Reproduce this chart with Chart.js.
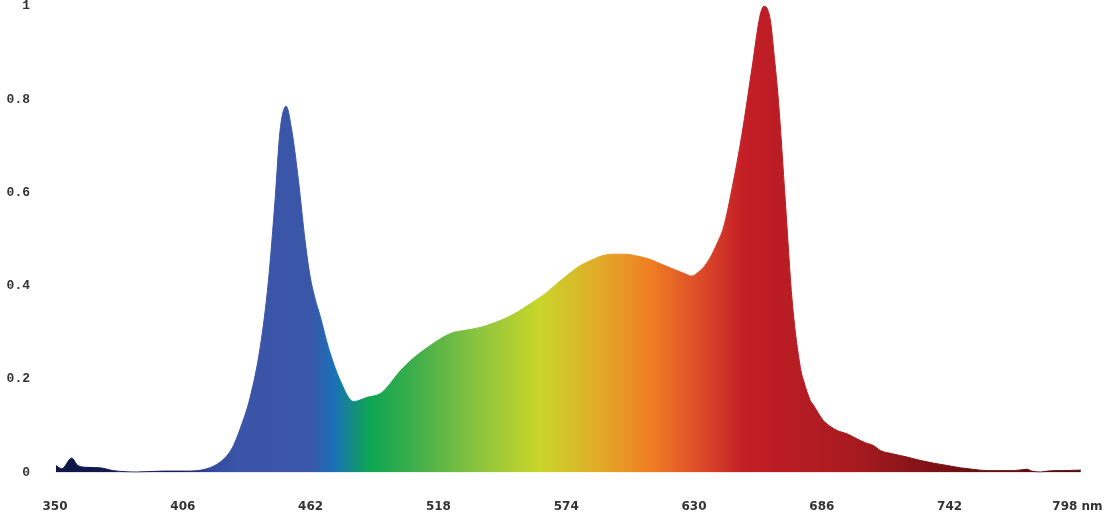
<!DOCTYPE html>
<html>
<head>
<meta charset="utf-8">
<script src="https://cdn.jsdelivr.net/npm/chart.js@4/dist/chart.umd.min.js"></script>
<style>
  html, body { margin: 0; padding: 0; background: #ffffff; }
  #wrap { width: 1120px; height: 523px; position: relative; }
</style>
</head>
<body>
<div id="wrap"><canvas id="c" width="1120" height="523"></canvas></div>
<script>
// ---- data ----
const wavelengths = [
  350.4, 353, 357.3, 360, 364, 369.7, 375.6, 385.8, 397.5, 407.7,
  416.5, 422.3, 426, 428.2, 431, 435.5, 439.9, 443.5, 446.5, 448.6,
  451.3, 453.8, 456.7, 459.6, 461.8, 464, 466.2, 469.8, 475, 480.8, 486.6,
  492.5, 495.4, 501.3, 507, 514.4, 520, 524.5, 530, 536.3, 542,
  548, 553, 558, 565.5, 570, 575.8, 580, 585.9, 590, 594.6,
  600, 605, 610, 615, 620, 625, 629, 632, 634, 637,
  640, 642.9, 646.7, 651, 655.4, 659, 660.8, 662.2, 663.5, 665,
  667, 670, 673, 676.6, 678, 681, 682, 686.7, 688.3, 692.7,
  697, 701.5, 705, 708.6, 711.7, 717, 723.4, 729, 735, 741,
  746.8, 752, 758.5, 764, 770, 776, 778, 781.8, 785, 787.5,
  792, 798, 799.5
];
const intensity = [
  0.015, 0.008, 0.031, 0.015, 0.011, 0.010, 0.004, 0.001, 0.003, 0.003,
  0.008, 0.022, 0.040, 0.058, 0.092, 0.161, 0.268, 0.410, 0.589, 0.732,
  0.785, 0.732, 0.625, 0.496, 0.420, 0.372, 0.335, 0.268, 0.197, 0.152, 0.161,
  0.169, 0.182, 0.218, 0.245, 0.272, 0.290, 0.300, 0.305, 0.311, 0.320,
  0.332, 0.345, 0.361, 0.386, 0.405, 0.428, 0.443, 0.457, 0.465, 0.468,
  0.468, 0.464, 0.458, 0.448, 0.438, 0.428, 0.421, 0.430, 0.439, 0.460,
  0.490, 0.525, 0.610, 0.725, 0.867, 0.981, 1.000, 0.993, 0.968, 0.900,
  0.796, 0.582, 0.368, 0.225, 0.197, 0.154, 0.147, 0.111, 0.104, 0.090,
  0.083, 0.072, 0.064, 0.058, 0.047, 0.040, 0.033, 0.026, 0.020, 0.015,
  0.010, 0.007, 0.004, 0.004, 0.004, 0.007, 0.003, 0.001, 0.003, 0.004,
  0.004, 0.005, 0.005
];
const xTickValues = [350, 406, 462, 518, 574, 630, 686, 742, 798];
const yTickValues = [0, 0.2, 0.4, 0.6, 0.8, 1];
const xUnit = 'nm';

// spectrum colour stops (wavelength -> colour)
const stopNm = [350, 405, 418, 430, 462, 472, 488, 510, 536, 562, 590, 611, 633, 652, 700, 745, 800];
const stopColor = ['#0f1645', '#17205a', '#3249a0', '#3a55a8', '#3a56a8', '#1a70b8', '#0ea552', '#45b04a',
                   '#8ec43e', '#c8d62a', '#e3a828', '#f07e22', '#dc4a2a', '#c41e26', '#a81a20', '#701012', '#4e0c0e'];

const points = wavelengths.map((w, i) => ({ x: w, y: intensity[i] }));

function spectrumGradient(context) {
  const chart = context.chart;
  const area = chart.chartArea;
  if (!area) return '#3a56a8';
  const xs = chart.scales.x;
  const x0 = xs.getPixelForValue(stopNm[0]);
  const x1 = xs.getPixelForValue(stopNm[stopNm.length - 1]);
  const g = chart.ctx.createLinearGradient(x0, 0, x1, 0);
  stopNm.forEach((nm, i) => {
    g.addColorStop((nm - stopNm[0]) / (stopNm[stopNm.length - 1] - stopNm[0]), stopColor[i]);
  });
  return g;
}

new Chart(document.getElementById('c'), {
  type: 'line',
  data: {
    datasets: [{
      data: points,
      fill: 'start',
      backgroundColor: spectrumGradient,
      borderColor: spectrumGradient,
      borderWidth: 1,
      pointRadius: 0,
      cubicInterpolationMode: 'monotone'
    }]
  },
  options: {
    responsive: false,
    animation: false,
    layout: { padding: { top: 6, right: 38, left: 0, bottom: 0 } },
    plugins: { legend: { display: false }, tooltip: { enabled: false } },
    scales: {
      x: {
        type: 'linear',
        min: 350,
        max: 800,
        grid: { display: false, drawTicks: false },
        border: { display: false },
        afterBuildTicks(scale) { scale.ticks = xTickValues.map(v => ({ value: v })); },
        afterFit(scale) {
          scale.height = 50.5;
          scale.paddingLeft = 0;
          scale.paddingRight = 0;
        },
        ticks: {
          padding: 27,
          autoSkip: false,
          maxRotation: 0,
          color: '#333333',
          font: { family: '"DejaVu Sans", sans-serif', size: 12, weight: 'bold' },
          callback: v => (v === xTickValues[xTickValues.length - 1] ? v + ' ' + xUnit : String(v))
        }
      },
      y: {
        min: 0,
        max: 1,
        grid: { display: false, drawTicks: false },
        border: { display: false },
        afterBuildTicks(scale) { scale.ticks = yTickValues.map(v => ({ value: v })); },
        afterFit(scale) {
          scale.width = 55;
          scale.paddingTop = 0;
          scale.paddingBottom = 0;
        },
        ticks: {
          padding: 25,
          color: '#333333',
          font: { family: '"Liberation Mono", monospace', size: 13, weight: 'bold' },
          callback: v => String(v)
        }
      }
    }
  }
});
</script>
</body>
</html>
